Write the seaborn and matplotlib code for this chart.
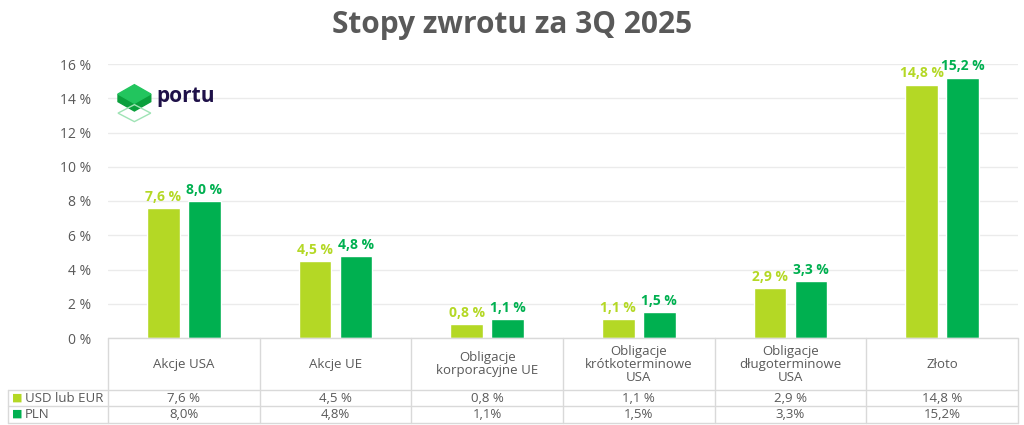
import matplotlib
matplotlib.use("Agg")
import matplotlib.pyplot as plt
import seaborn as sns
import pandas as pd
from matplotlib.patches import Polygon

categories = ["Akcje USA", "Akcje UE", "Obligacje\nkorporacyjne UE",
              "Obligacje\nkrótkoterminowe\nUSA", "Obligacje\ndługoterminowe\nUSA", "Złoto"]
series = ["USD lub EUR", "PLN"]
usd_eur = [7.6, 4.5, 0.8, 1.1, 2.9, 14.8]
pln = [8.0, 4.8, 1.1, 1.5, 3.3, 15.2]
usd_table = ["7,6 %", "4,5 %", "0,8 %", "1,1 %", "2,9 %", "14,8 %"]
pln_table = ["8,0%", "4,8%", "1,1%", "1,5%", "3,3%", "15,2%"]
yticks = [0, 2, 4, 6, 8, 10, 12, 14, 16]

LIGHT = "#B4D825"
DARK = "#00B050"
GRID = "#D9D9D9"
TXT = "#595959"

sns.set_style("white")
plt.rcParams["font.family"] = ["Open Sans", "DejaVu Sans"]

df = pd.DataFrame({
    "cat": list(range(6)) * 2,
    "series": [series[0]] * 6 + [series[1]] * 6,
    "val": usd_eur + pln,
})

fig = plt.figure(figsize=(10.24, 4.25), dpi=100)
ax = fig.add_axes([108 / 1024, 87 / 425, 910 / 1024, 274 / 425])
sns.barplot(data=df, x="cat", y="val", hue="series", palette=[LIGHT, DARK],
            width=0.54, gap=0.2, saturation=1, ax=ax, legend=False, native_scale=True)
ax.set_xlim(-0.5, 5.5)
ax.set_ylim(0, 16)
ax.set_yticks(yticks)
ax.set_yticklabels([f"{t} %" for t in yticks], color=TXT, fontsize=10)
ax.set_xticks([])
ax.set_xlabel("")
ax.set_ylabel("")
ax.tick_params(axis="y", length=0, pad=12)
ax.yaxis.grid(True, color="#EBEBEB", lw=1)
ax.set_axisbelow(True)
for s in ax.spines.values():
    s.set_visible(False)

# value labels
for cont, vals, col in zip(ax.containers, [usd_eur, pln], [LIGHT, DARK]):
    for bar, v in zip(cont, vals):
        ax.text(bar.get_x() + bar.get_width() / 2, v + 0.25,
                f"{v:.1f} %".replace(".", ","), ha="center", va="bottom",
                color=col, fontsize=10, fontweight="bold")

# data table below the axes
tr = ax.get_xaxis_transform()
left = -1.16
y_head, y_r1, y_r2 = -0.19, -0.248, -0.31
kw = dict(transform=tr, clip_on=False, color=GRID, lw=1)
ax.plot([-0.5, 5.5], [0, 0], **kw)
for y in [y_head, y_r1, y_r2]:
    ax.plot([left, 5.5], [y, y], **kw)
ax.plot([left, left], [y_head, y_r2], **kw)
for xb in [i - 0.5 for i in range(7)]:
    ax.plot([xb, xb], [0, y_r2], **kw)
for i, c in enumerate(categories):
    ax.text(i, y_head / 2, c, transform=tr, ha="center", va="center",
            color=TXT, fontsize=9.5, linespacing=1.0)
    ax.text(i, (y_head + y_r1) / 2, usd_table[i], transform=tr, ha="center",
            va="center", color=TXT, fontsize=9.5)
    ax.text(i, (y_r1 + y_r2) / 2, pln_table[i], transform=tr, ha="center",
            va="center", color=TXT, fontsize=9.5)
for y, name, col in [((y_head + y_r1) / 2, series[0], LIGHT), ((y_r1 + y_r2) / 2, series[1], DARK)]:
    ax.text(left + 0.03, y, "\u25A0", transform=tr, ha="left", va="center",
            color=col, fontsize=8)
    ax.text(left + 0.11, y, name, transform=tr, ha="left", va="center",
            color=TXT, fontsize=9.5)

# title
fig.text(0.5, 0.94, "Stopy zwrotu za 3Q 2025", ha="center", va="center",
         fontsize=21.5, fontweight="bold", color=TXT)

# logo
lx, ly = 118 / 1024, 331 / 425
cube_top = [(lx, ly), (lx + 0.016, ly + 0.022), (lx + 0.032, ly), (lx + 0.016, ly - 0.022)]
cube_side = [(lx, ly), (lx + 0.016, ly - 0.022), (lx + 0.032, ly), (lx + 0.032, ly - 0.018),
             (lx + 0.016, ly - 0.04), (lx, ly - 0.018)]
fig.patches.append(Polygon(cube_side, closed=True, transform=fig.transFigure, color="#0A9F3C"))
fig.patches.append(Polygon(cube_top, closed=True, transform=fig.transFigure, color="#22C55E"))
outline = [(lx, ly - 0.045), (lx + 0.016, ly - 0.025), (lx + 0.032, ly - 0.045), (lx + 0.016, ly - 0.065)]
fig.patches.append(Polygon(outline, closed=True, transform=fig.transFigure, fill=False,
                           edgecolor="#9FE3B5", lw=1))
fig.text(lx + 0.037, ly - 0.005, "portu", ha="left", va="center", fontsize=15,
         fontweight="bold", color="#1E1048")

fig.savefig("out.png", dpi=100, facecolor="white")
